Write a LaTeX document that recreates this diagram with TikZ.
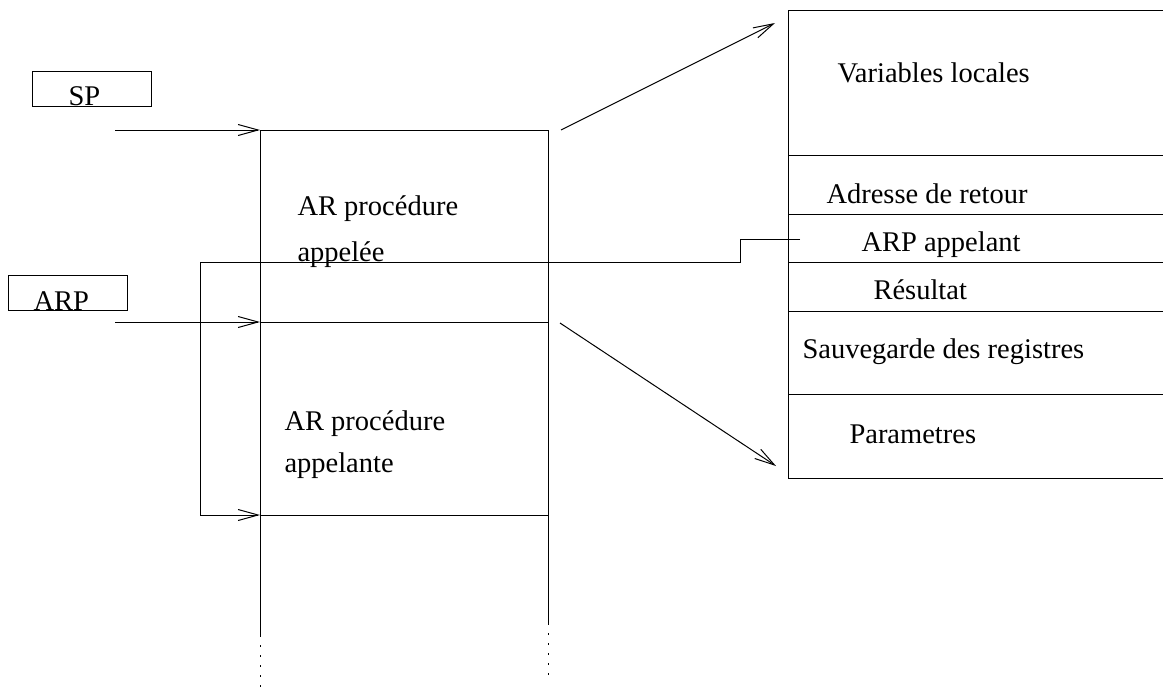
\documentclass[tikz,border=0pt]{standalone}
\usepackage{fontspec}
\setmainfont{Liberation Serif}
\usetikzlibrary{arrows.meta}
\begin{document}
\begin{tikzpicture}[x=1pt,y=-1pt,
  line width=1pt,
  lbl/.style={anchor=base west,inner sep=0pt,font=\fontsize{28.5}{34}\selectfont},
  regbox/.style={draw,anchor=north west,inner sep=0pt,minimum width=119pt,minimum height=35pt},
  ptr/.style={-{Straight Barb[length=20pt,width=11pt,line width=1pt]}},
  cont/.style={line width=1pt,dash pattern=on 1.5pt off 8.5pt}]
\useasboundingbox (0,0) rectangle (1163,689);

% registers
\node[regbox] (spbox) at (31.5,70.5) {};
\node[lbl] (sp) at (68,105) {SP};
\node[regbox] (arpbox) at (7.5,274.5) {};
\node[lbl] (arp) at (33,310) {ARP};

% stack of activation records
\coordinate (st) at (260,130);
\coordinate (sr) at (548,130);
\coordinate (m1l) at (260,322);
\coordinate (m1r) at (548,322);
\coordinate (m2l) at (260,515);
\coordinate (m2r) at (548,515);
\coordinate (lend) at (260,635);
\coordinate (rend) at (548,623);
\draw (st) -- (sr);
\draw (m1l) -- (m1r);
\draw (m2l) -- (m2r);
\draw (st) -- (lend);
\draw (sr) -- (rend);
\draw[cont] (lend) -- (260,692);
\draw[cont] (rend) -- (548,678);

\node[lbl] (called1) at (297,215) {AR procédure};
\node[lbl] (called2) at (297,261) {appelée};
\node[lbl] (caller1) at (284,430) {AR procédure};
\node[lbl] (caller2) at (284,472) {appelante};

% pointers from registers
\coordinate (spsrc) at (115,130);
\coordinate (arpsrc) at (115,322);
\draw[ptr] (spsrc) -- (st);
\draw[ptr] (arpsrc) -- (m1l);

% detail of the called record
\coordinate (tl) at (788,10);
\coordinate (tr) at (1164,10);
\coordinate (bl) at (788,478);
\coordinate (br) at (1164,478);
\draw (tr) -- (tl) -- (bl) -- (br);
\foreach \y in {155,214,262,311,394} \draw (788,\y) -- (1164,\y);

\node[lbl] (vl) at (837,82) {Variables locales};
\node[lbl] (ad) at (826,203) {Adresse de retour};
\node[lbl] (ap) at (861,251) {ARP appelant};
\node[lbl] (re) at (873,299) {Résultat};
\node[lbl] (sv) at (802,358) {Sauvegarde des registres};
\node[lbl] (pa) at (849,443) {Parametres};

% zoom arrows
\coordinate (zt0) at (561,130);
\coordinate (zt1) at (775,23);
\coordinate (zb0) at (560,323);
\coordinate (zb1) at (776,466);
\draw[ptr] (zt0) -- (zt1);
\draw[ptr] (zb0) -- (zb1);

% caller ARP link
\coordinate (lk) at (800,239);
\draw[ptr] (lk) -- (740,239) -- (740,262) -- (200,262) -- (200,515) -- (m2l);
\end{tikzpicture}
\end{document}
